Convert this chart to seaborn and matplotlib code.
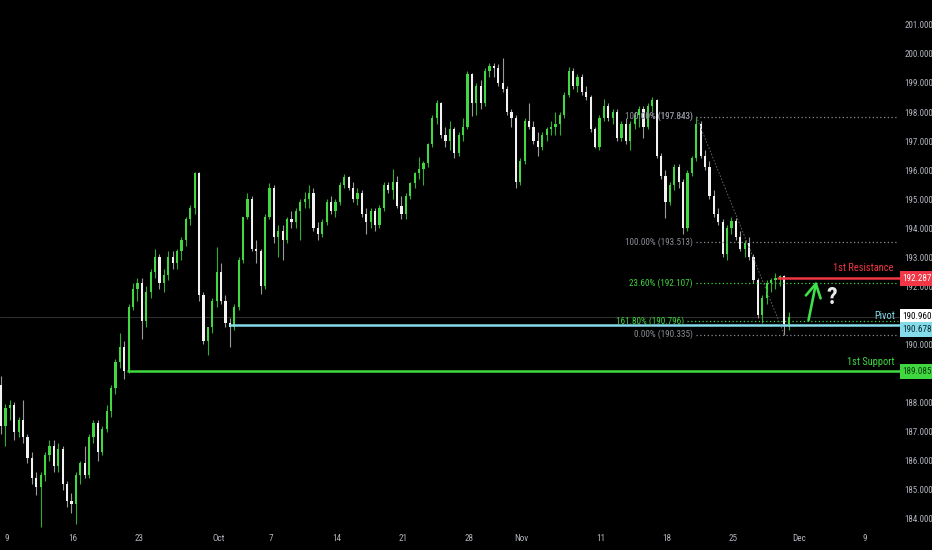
import numpy as np
import pandas as pd
import matplotlib
matplotlib.use("Agg")
import matplotlib.pyplot as plt
import seaborn as sns
from matplotlib import font_manager as fm
from matplotlib.transforms import blended_transform_factory

# ---------------- data ----------------
opens = [188.6,187.2,187.8,187.9,187.0,187.4,186.8,186.1,185.4,185.1,
         185.5,186.2,186.5,185.8,186.4,185.2,184.6,184.5,185.5,185.9,
         185.5,186.8,187.3,186.3,187.1,187.7,188.5,189.4,189.9,189.1,
         191.3,191.9,192.1,190.8,191.8,192.5,193.0,192.1,192.4,193.0,
         192.8,193.2,193.6,194.3,194.7,195.9,191.7,190.1,190.6,191.5,
         192.5,191.5,190.75,190.6,191.3,192.9,194.4,195.0,193.3,193.2,
         192.0,194.4,195.4,193.7,193.9,193.6,194.3,194.2,194.6,194.9,
         195.0,195.2,194.0,193.8,194.2,194.9,194.6,194.9,195.5,195.75,
         195.4,195.0,195.2,194.5,194.2,194.6,194.1,194.7,195.5,195.3,
         195.6,194.75,194.5,195.1,195.55,195.9,196.05,196.25,196.9,197.8,
         198.3,197.2,197.0,197.4,196.6,197.2,197.5,199.3,198.3,198.9,
         198.3,199.4,199.6,199.5,199.0,198.8,198.0,197.8,195.6,196.3,
         197.7,197.5,197.0,196.8,197.2,197.4,197.5,197.6,197.9,198.6,
         199.4,198.9,199.2,198.7,198.5,197.4,196.8,197.8,198.2,197.8,
         198.0,197.1,197.6,197.0,197.6,197.9,198.1,197.5,198.2,198.4,
         196.5,195.8,194.9,195.5,196.1,195.6,194.0,195.9,196.4,197.6,
         196.5,196.1,195.1,194.5,194.2,193.1,194.0,194.25,193.7,193.3,
         193.5,193.0,192.2,191.0,191.6,192.1,192.2,192.3,192.35,190.7]
highs = [188.9,187.95,188.1,188.0,187.5,188.1,186.9,186.3,185.6,185.6,
         186.3,186.7,186.7,186.6,186.5,185.3,184.9,185.6,186.0,186.5,
         186.9,187.4,187.4,187.2,187.9,188.6,189.5,190.4,190.1,191.4,
         192.1,192.3,192.3,192.0,192.6,193.3,193.1,192.6,193.2,193.2,
         193.3,193.7,194.4,194.8,195.95,195.95,191.8,190.6,191.6,193.35,
         192.8,191.7,190.9,191.4,193.0,194.4,195.2,195.1,193.6,193.3,
         194.5,195.55,195.5,194.1,194.1,194.4,194.6,194.7,195.0,195.25,
         195.5,195.4,194.2,194.3,195.0,195.1,195.0,195.6,195.85,195.8,
         195.6,195.4,195.3,194.7,194.7,194.7,194.8,195.6,195.6,196.05,
         195.8,195.1,195.2,195.6,195.95,196.45,196.3,196.95,197.9,198.4,
         198.35,197.5,197.7,197.5,197.3,197.8,199.4,199.35,199.0,199.1,
         199.5,199.7,199.7,199.65,199.85,198.9,198.1,197.9,196.4,197.8,
         198.3,197.7,197.3,197.3,197.5,197.7,198.0,198.0,198.7,199.55,
         199.5,199.3,199.3,198.9,198.6,197.5,197.9,198.45,198.3,198.1,
         198.1,197.7,197.8,197.7,198.0,198.2,198.2,198.3,198.5,198.45,
         196.6,196.0,195.6,196.2,196.2,195.7,196.0,196.5,197.843,197.7,
         196.7,196.3,195.3,194.7,194.3,194.1,194.4,194.35,193.9,193.6,
         193.7,193.1,192.3,191.7,192.2,192.3,192.45,192.4,192.4,191.1]
lows = [186.9,186.5,187.4,186.7,186.8,186.6,185.9,185.2,184.8,183.7,
        185.3,186.0,185.6,185.6,185.0,184.4,184.2,183.8,185.2,185.4,
        185.4,186.6,186.0,186.2,187.0,187.5,188.3,189.2,188.8,189.0,
        191.2,191.5,190.2,190.6,191.6,192.3,191.9,191.8,192.2,192.6,
        192.6,192.9,193.4,194.1,194.5,191.5,190.0,189.65,190.4,191.3,
        191.4,190.6,189.9,190.5,191.2,192.8,194.3,193.2,192.8,191.75,
        191.9,194.3,193.5,193.0,192.9,193.5,194.0,194.0,193.6,194.7,
        194.7,193.9,193.6,193.7,194.1,194.5,194.4,194.8,195.4,195.3,
        194.9,194.8,194.4,193.8,194.0,193.9,194.0,194.6,195.2,195.0,
        194.7,194.3,194.3,195.0,195.4,195.7,195.5,196.1,196.8,197.6,
        197.1,196.8,196.7,196.4,196.5,197.0,197.4,197.85,197.9,198.1,
        198.2,199.2,199.2,198.9,198.7,197.9,197.5,195.4,195.5,196.2,
        197.4,196.9,196.5,196.7,197.0,197.2,197.2,197.2,197.8,198.5,
        198.8,198.7,198.6,198.4,197.3,196.75,196.7,197.7,197.7,197.6,
        197.0,197.0,196.9,196.7,197.4,197.5,197.1,197.4,198.0,196.4,
        195.7,194.35,194.8,195.3,195.4,193.8,193.9,195.8,196.3,196.4,
        196.0,195.0,194.4,194.1,193.0,192.9,193.8,193.6,193.2,193.0,
        192.9,192.1,190.9,190.75,191.4,191.8,191.9,192.0,190.335,190.5]
closes = [187.2,187.8,187.9,187.0,187.4,186.8,186.1,185.4,185.1,185.5,
          186.2,186.5,185.8,186.4,185.2,184.6,184.5,185.5,185.9,185.5,
          186.8,187.3,186.3,187.1,187.7,188.5,189.4,189.9,189.1,191.3,
          191.9,192.1,190.8,191.8,192.5,193.0,192.1,192.4,193.0,192.8,
          193.2,193.6,194.3,194.7,195.9,191.7,190.1,190.6,191.5,192.5,
          191.5,190.75,190.6,191.3,192.9,194.4,195.0,193.3,193.2,192.0,
          194.4,195.4,193.7,193.9,193.6,194.3,194.2,194.6,194.9,195.0,
          195.2,194.0,193.8,194.2,194.9,194.6,194.9,195.5,195.75,195.4,
          195.0,195.2,194.5,194.2,194.6,194.1,194.7,195.5,195.3,195.6,
          194.75,194.5,195.1,195.55,195.9,196.05,196.25,196.9,197.8,198.3,
          197.2,197.0,197.4,196.6,197.2,197.5,199.3,198.3,198.9,198.3,
          199.4,199.6,199.5,199.0,198.8,198.0,197.8,195.6,196.3,197.7,
          197.5,197.0,196.8,197.2,197.4,197.5,197.6,197.9,198.6,199.4,
          198.9,199.2,198.7,198.5,197.4,196.8,197.8,198.2,197.8,198.0,
          197.1,197.6,197.0,197.6,197.9,198.1,197.5,198.2,198.4,196.5,
          195.8,194.9,195.5,196.1,195.6,194.0,195.9,196.4,197.6,196.5,
          196.1,195.1,194.5,194.2,193.1,194.0,194.25,193.7,193.3,193.5,
          193.0,192.2,191.0,191.6,192.1,192.2,192.3,192.35,190.7,190.96]

candles_per_day = 3          # 8-hour candles
first_candle_day = -0.45     # trading-day index of first candle (Sep 9 = 0)

date_tick_days = [0, 5, 10, 16, 20, 25, 30, 35, 39, 45, 50, 55, 60, 65]
date_tick_labels = ["9", "16", "23", "Oct", "7", "14", "21", "28", "Nov",
                    "11", "18", "25", "Dec", "9"]

price_ticks = [184, 185, 186, 187, 188, 190, 192, 193, 194, 195, 196,
               197, 198, 199, 200, 201]

support_level = 189.085
pivot_level = 190.678
resistance_level = 192.287
support_start, pivot_start, resistance_start = 29, 52, 177   # candle index

fib_levels = [197.843, 193.513, 192.107, 190.796, 190.335]
fib_labels = ["0.00% (197.843)", "100.00% (193.513)", "23.60% (192.107)",
              "161.80% (190.796)", "0.00% (190.335)"]
fib_label2 = "100.00% (197.843)"
fib_high_idx, fib_low_idx = 158, 178

# ---------------- style ----------------
sns.set_theme(style="dark")
avail = {f.name for f in fm.fontManager.ttflist}
font = "DejaVu Sans"
for c in ["Roboto Condensed", "Liberation Sans Narrow", "Open Sans Condensed"]:
    if c in avail:
        font = c
        break
plt.rcParams["font.family"] = [font, "DejaVu Sans"]

BG = "black"
GREEN = "#42d842"
WHITE = "#f2f2f2"
TXT = "#b2b5be"
RED = "#f23645"
CYAN = "#86dbea"
GRAY = "#8a8d96"

df = pd.DataFrame({"open": opens, "high": highs, "low": lows, "close": closes})
df["pos"] = first_candle_day + np.arange(len(df)) / candles_per_day
df["up"] = df["close"] >= df["open"]

fig = plt.figure(figsize=(9.32, 5.5), dpi=100, facecolor=BG)
ax = fig.add_axes([0, 20 / 550, 900 / 932, 530 / 550])
ax.set_facecolor(BG)
ax.grid(False)
for s in ax.spines.values():
    s.set_visible(False)

xmax = 67.65
ax.set_xlim(-0.53, xmax)
ax.set_ylim(183.61, 201.856)

# last-price line
ax.axhline(closes[-1], color="#2e2e2e", lw=0.8, zorder=0.5)

# candles
wick_cols = np.where(df["up"], "#2fae2f", "#9a9a9a")
ax.vlines(df["pos"], df["low"], df["high"], colors=wick_cols, lw=0.8, zorder=2)
body_bottom = df[["open", "close"]].min(axis=1)
body_h = (df["close"] - df["open"]).abs().clip(lower=0.03)
body_cols = np.where(df["up"], GREEN, WHITE)
ax.bar(df["pos"], body_h, bottom=body_bottom, width=0.17, color=body_cols,
       linewidth=0, zorder=3)

# horizontal levels
ax.hlines(support_level, df["pos"][support_start] - 0.1, xmax, color="#40d840", lw=1.8, zorder=4)
ax.hlines(pivot_level, df["pos"][pivot_start] - 0.1, xmax, color=CYAN, lw=1.8, zorder=4)
ax.hlines(resistance_level, df["pos"][resistance_start] - 0.2, xmax, color=RED, lw=1.8, zorder=4)

# fibonacci
fib_x0 = df["pos"][fib_high_idx]
for lv, lab in zip(fib_levels, fib_labels):
    col = "#3fd43f" if ("23.60" in lab or "161.80" in lab) else GRAY
    x0 = fib_x0 - (0.7 if "161.80" in lab else 0.0)
    ax.hlines(lv, x0, xmax - 0.15, color=col, lw=0.9, linestyles=(0, (1, 2)), zorder=4)
    ax.text(x0 - 0.25, lv, lab, color=col, fontsize=6.6, ha="right", va="center", zorder=5)
ax.text(fib_x0 - 0.25, fib_levels[0], fib_label2, color=GRAY, fontsize=6.6,
        ha="right", va="center", zorder=5)
ax.plot([fib_x0, df["pos"][fib_low_idx]], [df["high"][fib_high_idx], df["low"][fib_low_idx]],
        color="#6f6f6f", lw=0.6, ls=(0, (2, 2)), zorder=4)

# level labels
bt = blended_transform_factory(ax.transAxes, ax.transData)
ax.text(0.993, 192.63, "1st Resistance", color=RED, fontsize=7.5, ha="right", va="center", transform=bt, zorder=6)
ax.text(0.995, 190.98, "Pivot", color=CYAN, fontsize=7.5, ha="right", va="center", transform=bt, zorder=6)
ax.text(0.994, 189.40, "1st Support", color="#40d840", fontsize=7.5, ha="right", va="center", transform=bt, zorder=6)

# arrow and question mark
ax.annotate("", xy=(61.36, 192.27), xytext=(60.68, 190.74),
            arrowprops=dict(arrowstyle="->,head_length=0.8,head_width=0.45", color="#3ee04a", lw=1.9),
            zorder=6)
ax.text(62.5, 191.6, "?", color="#e8e8e8", fontsize=17, fontweight="bold", ha="center", va="center", zorder=6)

# price axis
ax.yaxis.tick_right()
ax.set_yticks(price_ticks)
ax.set_yticklabels([f"{v:.3f}" for v in price_ticks])
ax.tick_params(axis="y", colors=TXT, labelsize=6.5, length=0, pad=3)
ax.set_xticks(date_tick_days)
ax.set_xticklabels(date_tick_labels)
ax.tick_params(axis="x", colors=TXT, labelsize=6.6, length=0, pad=3)

# price tags
tags = [(192.26, "192.287", RED, "white"),
        (190.95, "190.960", "white", "black"),
        (190.52, "190.678", CYAN, "#0b2a30"),
        (189.08, "189.085", "#40d840", "#0d3a0d")]
for y, s, fc, tc in tags:
    ax.text(1.003, y, s, transform=bt, ha="left", va="center", fontsize=6.6, color=tc,
            bbox=dict(boxstyle="square,pad=0.32", fc=fc, ec="none"), clip_on=False, zorder=7)

fig.savefig("out.png", dpi=100, facecolor=BG)
